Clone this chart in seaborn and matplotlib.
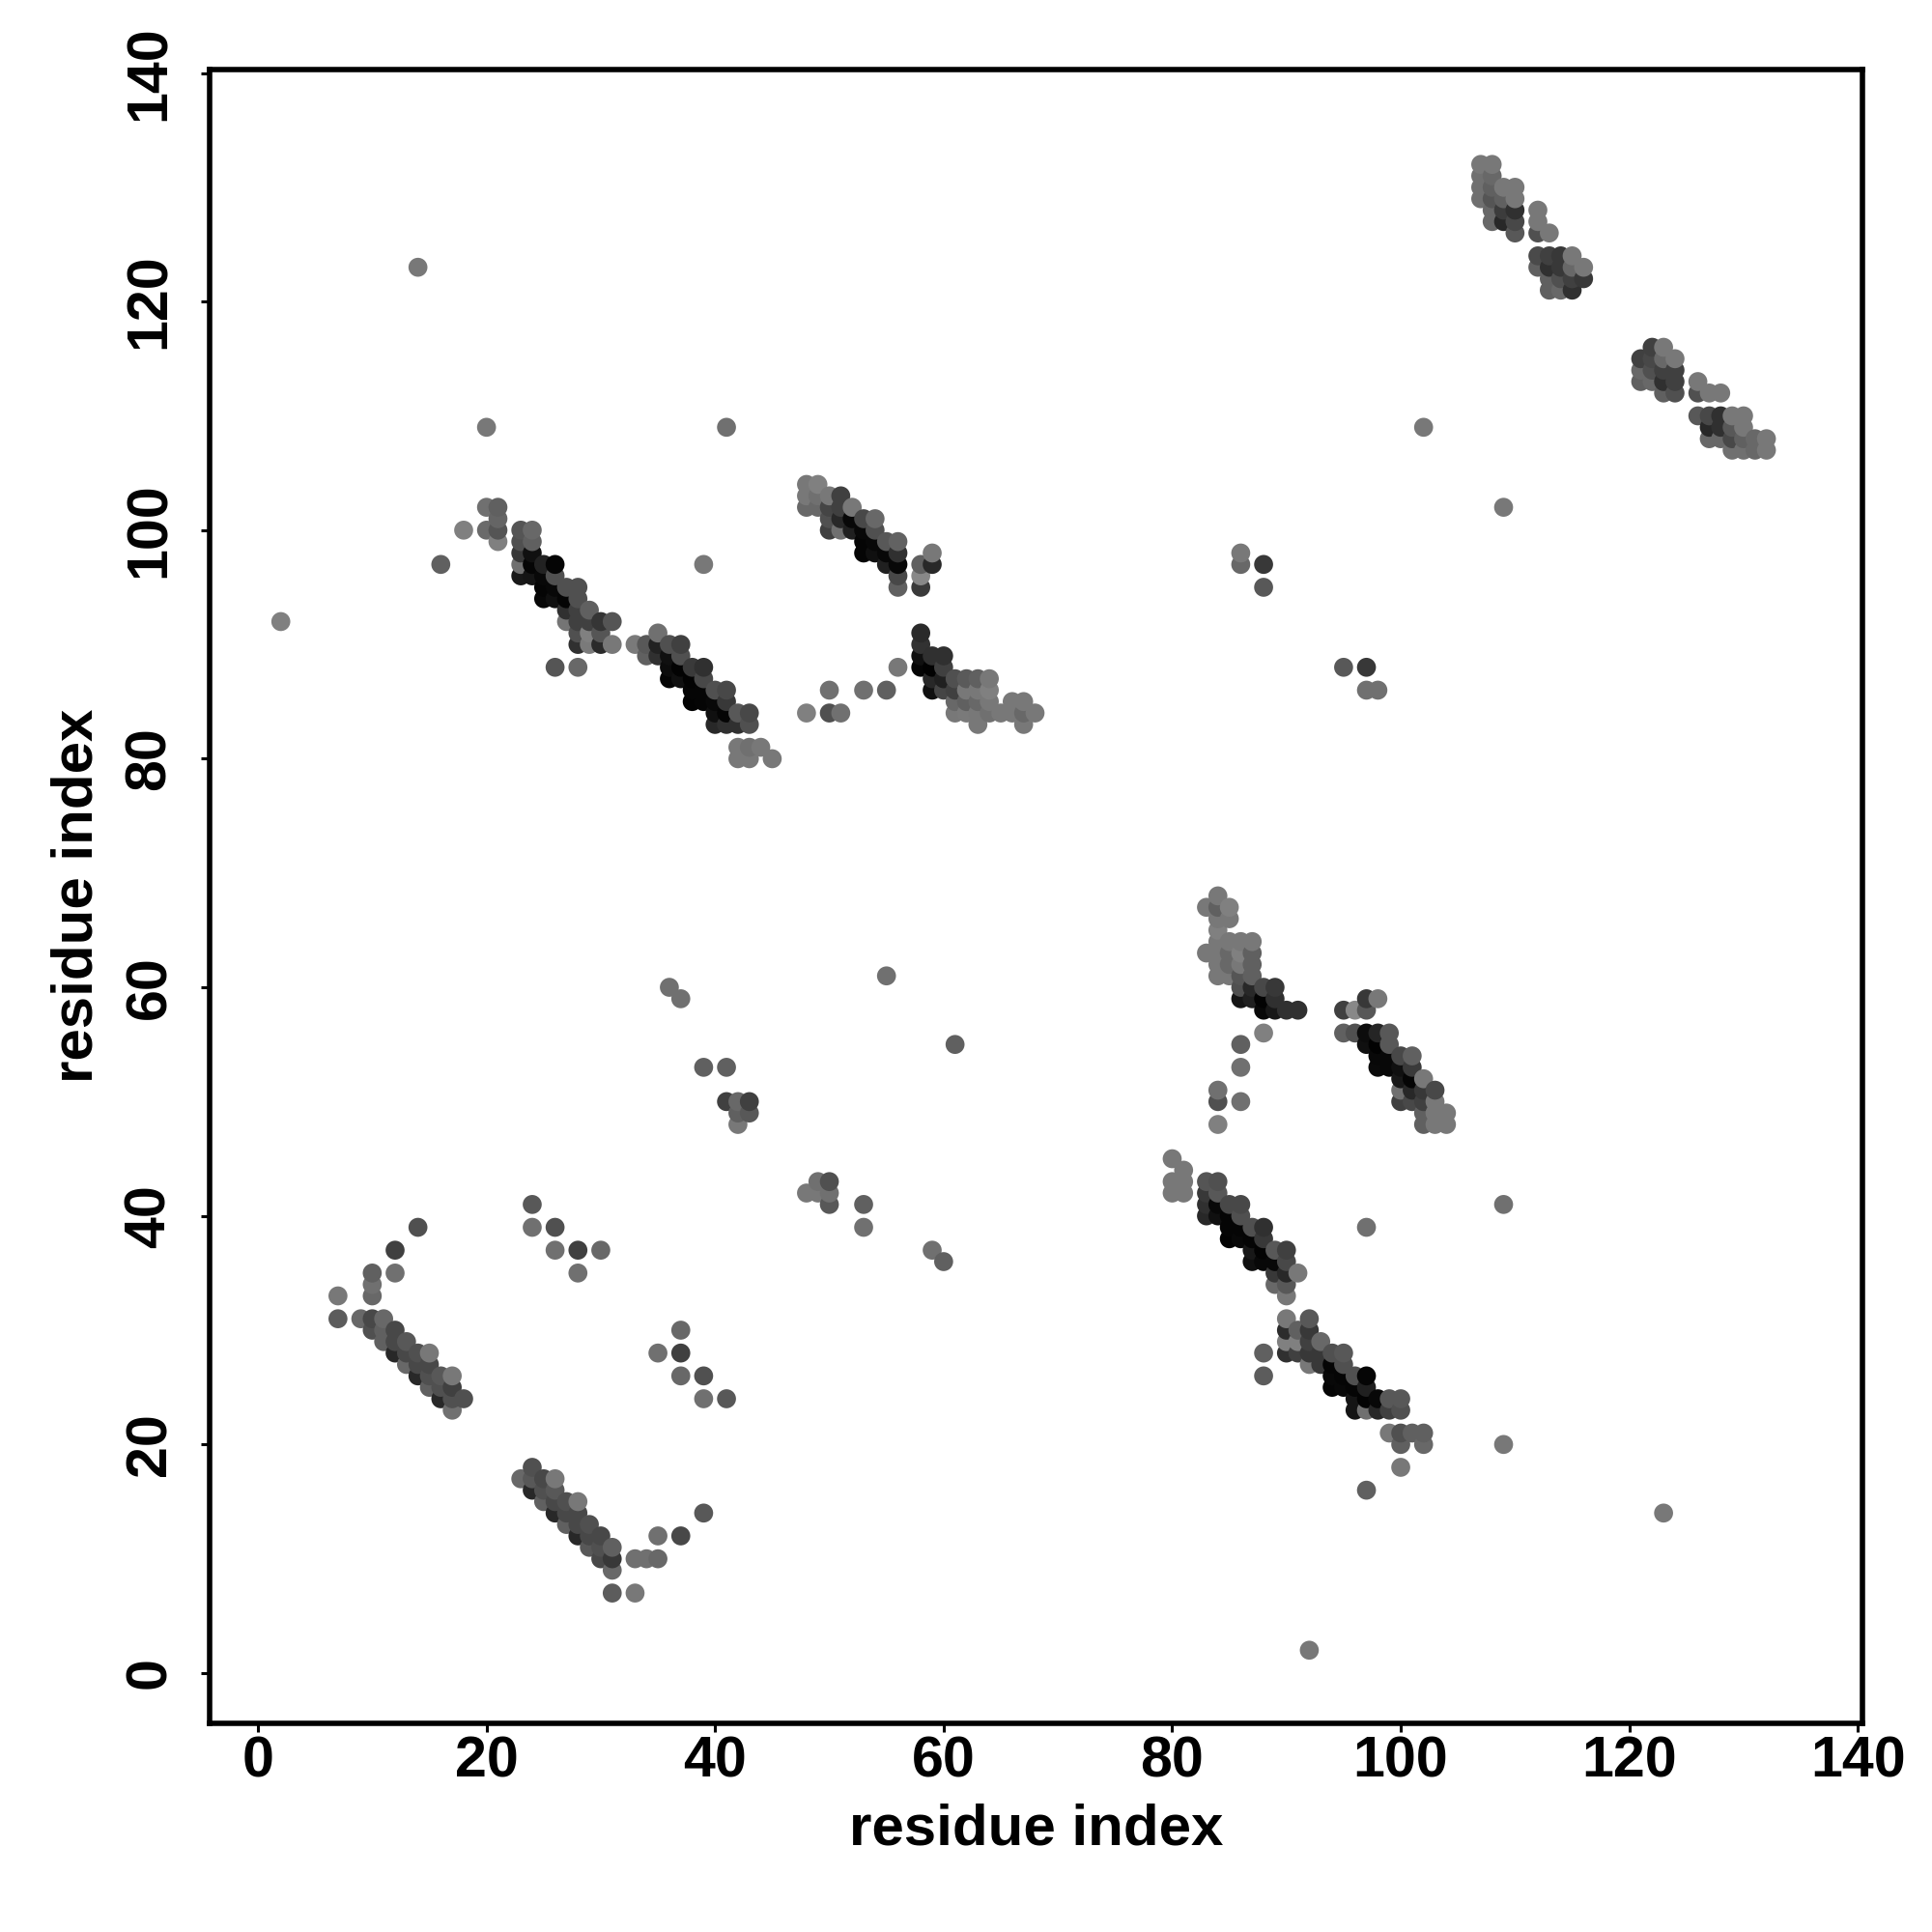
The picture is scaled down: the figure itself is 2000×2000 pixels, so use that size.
import pandas as pd
import seaborn as sns
import matplotlib.pyplot as plt

# contacts as (residue i, residue j, grey level 0-255)
block_23_31 = [
    (18,100,0x80),(20,102,0x70),(21,102,0x60),(21,101,0x65),(20,100,0x6a),(21,100,0x55),(21,99,0x80),
    (23,100,0x55),(23,99,0x50),(23,98,0x38),(23,97,0x70),(23,96,0x18),
    (24,100,0x68),(24,99,0x60),(24,98,0x10),(24,97,0x05),(24,96,0x15),
    (25,97,0x22),(25,96,0x08),(25,95,0x05),(25,94,0x08),
    (26,97,0x05),(26,96,0x50),(26,95,0x08),(26,94,0x10),
    (27,95,0x50),(27,94,0x05),(27,93,0x30),(27,92,0x75),
    (28,95,0x50),(28,94,0x50),(28,93,0x40),(28,92,0x40),(28,91,0x50),(28,90,0x30),
    (29,93,0x60),(29,92,0x40),(29,91,0x80),(29,90,0x7a),
    (30,92,0x35),(30,91,0x55),(30,90,0x2a),(31,92,0x55),(31,90,0x78),
    (26,88,0x55),(28,88,0x68),(39,97,0x78),
]
block_33_45 = [
    (33,90,0x7a),(34,90,0x58),(34,89,0x60),(35,91,0x70),(35,90,0x22),(35,89,0x30),
    (36,90,0x50),(36,89,0x10),(36,88,0x0c),(36,87,0x05),
    (37,90,0x40),(37,89,0x50),(37,88,0x03),(37,87,0x10),
    (38,88,0x3a),(38,87,0x03),(38,86,0x05),(38,85,0x03),
    (39,88,0x30),(39,87,0x48),(39,86,0x05),(39,85,0x05),
    (40,86,0x50),(40,85,0x08),(40,84,0x10),(40,83,0x28),
    (41,86,0x48),(41,85,0x38),(41,84,0x05),(41,83,0x30),
    (42,84,0x58),(42,83,0x30),(43,84,0x48),(43,83,0x50),
    (42,81,0x78),(43,81,0x70),(44,81,0x78),(42,80,0x78),(43,80,0x78),(45,80,0x78),
]
block_48_59 = [
    (48,104,0x78),(48,103,0x78),(48,102,0x68),(49,104,0x80),(49,103,0x70),(49,102,0x68),
    (50,103,0x78),(50,102,0x45),(50,101,0x50),(50,100,0x40),
    (51,103,0x40),(51,102,0x40),(51,101,0x28),(51,100,0x70),
    (52,102,0x78),(52,101,0x08),(52,100,0x20),
    (53,101,0x48),(53,100,0x08),(53,99,0x05),(53,98,0x05),
    (54,101,0x68),(54,100,0x50),(54,99,0x08),(54,98,0x10),
    (55,99,0x58),(55,98,0x08),(55,97,0x20),
    (56,99,0x62),(56,98,0x30),(56,97,0x08),(56,96,0x48),(56,95,0x60),
    (58,97,0x60),(58,96,0x88),(58,95,0x3a),(59,98,0x78),(59,97,0x28),
]
block_58_68 = [
    (58,91,0x2a),(58,90,0x32),(58,89,0x10),(58,88,0x05),
    (59,89,0x30),(59,88,0x02),(59,87,0x28),(59,86,0x10),
    (60,89,0x30),(60,88,0x40),(60,87,0x20),(60,86,0x45),
    (61,87,0x50),(61,86,0x40),(61,85,0x68),(61,84,0x78),
    (62,87,0x5a),(62,86,0x78),(62,85,0x60),(62,84,0x7a),
    (63,87,0x60),(63,86,0x78),(63,85,0x68),(63,84,0x78),(63,83,0x78),
    (64,87,0x78),(64,86,0x80),(64,85,0x78),(64,84,0x70),
    (65,84,0x78),(66,85,0x78),(66,84,0x78),(67,85,0x78),(67,84,0x68),(67,83,0x78),(68,84,0x78),
    (56,88,0x78),(50,86,0x70),(53,86,0x70),(55,86,0x60),(48,84,0x80),(50,84,0x50),(51,84,0x70),
]
block_107_116 = [
    (107,132,0x78),(107,131,0x70),(107,130,0x70),(107,129,0x70),
    (108,132,0x78),(108,131,0x68),(108,130,0x60),(108,129,0x55),(108,128,0x68),(108,127,0x68),
    (109,130,0x78),(109,129,0x60),(109,128,0x3c),(109,127,0x28),
    (110,130,0x78),(110,129,0x78),(110,128,0x30),(110,127,0x48),(110,126,0x58),
    (112,128,0x78),(112,127,0x78),(112,126,0x50),(113,126,0x78),
    (112,124,0x4a),(112,123,0x60),(113,124,0x40),(113,123,0x30),(113,122,0x60),(113,121,0x60),
    (114,124,0x38),(114,123,0x38),(114,122,0x50),(114,121,0x68),
    (115,124,0x78),(115,123,0x68),(115,122,0x40),(115,121,0x30),(116,123,0x78),(116,122,0x38),
]
block_121_132 = [
    (121,115,0x40),(121,114,0x68),(121,113,0x60),
    (122,116,0x40),(122,115,0x48),(122,114,0x50),(122,113,0x68),
    (123,116,0x78),(123,115,0x68),(123,114,0x40),(123,113,0x30),(123,112,0x60),
    (124,115,0x78),(124,114,0x40),(124,113,0x40),(124,112,0x50),
    (126,113,0x78),(126,112,0x50),(127,112,0x78),(128,112,0x78),
    (126,110,0x58),(127,110,0x48),(127,109,0x28),(127,108,0x68),
    (128,110,0x30),(128,109,0x30),(128,108,0x68),
    (129,110,0x78),(129,109,0x58),(129,108,0x48),(129,107,0x70),
    (130,110,0x78),(130,109,0x78),(130,108,0x60),(130,107,0x70),
    (131,108,0x68),(131,107,0x68),(132,108,0x78),(132,107,0x78),
]
block_83_91 = [
    (83,67,0x78),(83,63,0x78),
    (84,68,0x78),(84,67,0x60),(84,66,0x78),(84,65,0x80),(84,64,0x78),(84,63,0x78),(84,62,0x78),(84,61,0x78),
    (85,67,0x80),(85,66,0x78),(85,64,0x78),(85,63,0x68),(85,62,0x68),(85,61,0x78),
    (86,64,0x78),(86,63,0x80),(86,62,0x78),(86,61,0x55),(86,60,0x50),(86,59,0x15),
    (86,55,0x60),(86,53,0x70),(86,50,0x70),
    (87,64,0x78),(87,63,0x60),(87,62,0x60),(87,61,0x60),(87,60,0x28),(87,59,0x20),
    (88,60,0x48),(88,59,0x03),(88,58,0x08),(88,56,0x80),
    (89,60,0x38),(89,59,0x30),(89,58,0x18),(90,58,0x30),(91,58,0x30),
    (84,51,0x70),(84,50,0x50),(84,48,0x80),
]
block_95_104 = [
    (95,58,0x40),(95,56,0x60),(96,58,0x88),(96,56,0x50),
    (97,59,0x38),(97,58,0x58),(97,56,0x0c),(97,55,0x10),
    (98,59,0x78),(98,56,0x25),(98,55,0x02),(98,54,0x08),(98,53,0x0a),
    (99,56,0x58),(99,55,0x58),(99,54,0x08),(99,53,0x08),
    (100,54,0x48),(100,53,0x10),(100,52,0x18),(100,51,0x70),(100,50,0x40),
    (101,54,0x60),(101,53,0x3a),(101,52,0x05),(101,51,0x28),(101,50,0x48),
    (102,52,0x78),(102,51,0x38),(102,50,0x40),(102,49,0x60),(102,48,0x60),
    (103,51,0x48),(103,50,0x78),(103,49,0x78),(103,48,0x78),(104,49,0x78),(104,48,0x78),
]
block_80_91 = [
    (80,45,0x78),(80,43,0x78),(80,42,0x78),(81,44,0x78),(81,43,0x78),(81,42,0x78),
    (83,43,0x55),(83,42,0x38),(83,41,0x30),(83,40,0x28),
    (84,43,0x50),(84,42,0x58),(84,41,0x08),(84,40,0x10),
    (85,41,0x48),(85,40,0x05),(85,39,0x05),(85,38,0x03),
    (86,41,0x48),(86,40,0x50),(86,39,0x05),(86,38,0x08),
    (87,39,0x50),(87,38,0x05),(87,37,0x18),(87,36,0x10),
    (88,39,0x30),(88,38,0x38),(88,37,0x03),(88,36,0x08),
    (89,37,0x58),(89,36,0x08),(89,35,0x38),(89,34,0x68),
    (90,37,0x40),(90,36,0x48),(90,35,0x28),(90,34,0x58),(90,33,0x78),(91,35,0x78),
]
block_88_102 = [
    (90,31,0x78),(90,30,0x2c),(90,29,0x80),(90,28,0x30),
    (91,30,0x60),(91,29,0x80),(91,28,0x40),
    (92,31,0x58),(92,30,0x38),(92,29,0x40),(92,28,0x38),(92,27,0x78),
    (93,29,0x68),(93,28,0x38),(93,27,0x38),(88,28,0x60),(88,26,0x5c),
    (94,28,0x50),(94,27,0x05),(94,26,0x08),(94,25,0x05),
    (95,28,0x58),(95,27,0x50),(95,26,0x05),(95,25,0x08),
    (96,26,0x50),(96,25,0x05),(96,24,0x15),(96,23,0x15),
    (97,26,0x05),(97,25,0x20),(97,24,0x03),(97,23,0x70),
    (98,24,0x08),(98,23,0x28),(99,24,0x58),(99,23,0x40),(100,24,0x58),(100,23,0x50),
    (99,21,0x78),(100,21,0x50),(101,21,0x60),(102,21,0x60),(100,20,0x60),(102,20,0x68),
    (100,18,0x78),(97,16,0x60),
]
block_7_18 = [
    (12,37,0x40),(12,35,0x70),(10,35,0x60),(10,34,0x70),(10,33,0x68),(7,33,0x78),(7,31,0x5c),(9,31,0x68),
    (10,31,0x48),(10,30,0x50),(11,31,0x68),(11,30,0x60),(11,29,0x60),
    (12,30,0x48),(12,29,0x48),(12,28,0x28),(13,29,0x58),(13,28,0x48),(13,27,0x68),
    (14,28,0x50),(14,27,0x48),(14,26,0x28),(15,28,0x78),(15,27,0x48),(15,26,0x50),(15,25,0x60),
    (16,26,0x58),(16,25,0x50),(16,24,0x28),(17,26,0x78),(17,25,0x40),(17,24,0x50),(17,23,0x70),(18,24,0x50),
]
block_23_39 = [
    (23,17,0x68),(24,18,0x50),(24,17,0x58),(24,16,0x28),(25,17,0x48),(25,16,0x50),(25,15,0x60),
    (26,17,0x78),(26,16,0x58),(26,15,0x48),(26,14,0x28),(27,15,0x50),(27,14,0x48),(27,13,0x60),
    (28,15,0x78),(28,14,0x48),(28,13,0x48),(28,12,0x28),(29,13,0x50),(29,12,0x48),(29,11,0x58),
    (30,12,0x48),(30,11,0x50),(30,10,0x48),(31,11,0x60),(31,10,0x38),(31,9,0x68),(31,7,0x5c),
    (33,10,0x70),(34,10,0x70),(35,10,0x68),(35,12,0x70),(37,12,0x48),(39,14,0x58),(33,7,0x78),
]
scattered = [
    (14,123,0x78),(20,109,0x78),(41,109,0x70),(102,109,0x78),(109,102,0x78),(2,92,0x80),(16,97,0x60),
    (86,98,0x78),(86,97,0x68),(88,97,0x38),(88,95,0x58),(95,88,0x58),(97,88,0x38),(97,86,0x70),(98,86,0x70),
    (55,61,0x70),(36,60,0x70),(37,59,0x70),(61,55,0x60),(39,53,0x60),(41,53,0x60),
    (41,50,0x40),(42,50,0x68),(43,50,0x40),(42,49,0x60),(43,49,0x58),(42,48,0x78),
    (48,42,0x78),(49,43,0x70),(50,43,0x50),(49,42,0x78),(50,42,0x70),(50,41,0x58),
    (53,41,0x60),(53,39,0x70),(59,37,0x70),(60,36,0x60),
    (24,41,0x58),(24,39,0x70),(26,39,0x50),(26,37,0x70),(28,37,0x40),(30,37,0x68),(28,35,0x70),(14,39,0x50),
    (35,28,0x70),(37,30,0x68),(37,28,0x40),(37,26,0x68),(39,26,0x50),(39,24,0x70),(41,24,0x58),
    (109,41,0x70),(97,39,0x70),(109,20,0x78),(123,14,0x78),(92,2,0x78),
]
tick_values = [0, 20, 40, 60, 80, 100, 120, 140]

contacts = (block_23_31 + block_33_45 + block_48_59 + block_58_68 + block_107_116 + block_121_132
            + block_83_91 + block_95_104 + block_80_91 + block_88_102 + block_7_18 + block_23_39 + scattered)
df = pd.DataFrame(contacts, columns=["i", "j", "level"]).sort_values(["i", "j"])

sns.set_theme(style="white")
plt.rcParams["font.family"] = ["Liberation Sans", "DejaVu Sans"]

fig = plt.figure(figsize=(10, 10), dpi=200)
ax = fig.add_axes([217 / 2000, (2000 - 1784) / 2000, (1927.5 - 217) / 2000, (1784 - 72) / 2000])

sns.scatterplot(data=df, x="i", y="j", hue="level", palette="gray", hue_norm=(0, 255),
                s=50, linewidth=0, legend=False, ax=ax)

ax.set_xlim(-4.23, 140.36)
ax.set_ylim(-4.4, 140.3)
ax.set_xticks(tick_values)
ax.set_yticks(tick_values)
ax.tick_params(axis="both", which="major", bottom=True, left=True, length=3.4, width=1.1,
               color="black", labelsize=21.3, labelcolor="black")
ax.tick_params(axis="x", pad=1.2)
ax.tick_params(axis="y", pad=8.8)
for lab in ax.get_xticklabels() + ax.get_yticklabels():
    lab.set_fontweight("bold")
for lab in ax.get_yticklabels():
    lab.set_rotation(90)
    lab.set_va("center")
for spine in ax.spines.values():
    spine.set_visible(True)
    spine.set_color("black")
    spine.set_linewidth(2.0)

fig.text(1073 / 2000, (2000 - 1894) / 2000, "residue index", fontsize=21.6, fontweight="bold",
         color="black", ha="center", va="center")
fig.text(80 / 2000, (2000 - 927) / 2000, "residue index", fontsize=21.6, fontweight="bold",
         color="black", ha="center", va="center", rotation=90)
ax.set_xlabel("")
ax.set_ylabel("")

fig.savefig("out.png", dpi=200, facecolor="white")
plt.close(fig)
